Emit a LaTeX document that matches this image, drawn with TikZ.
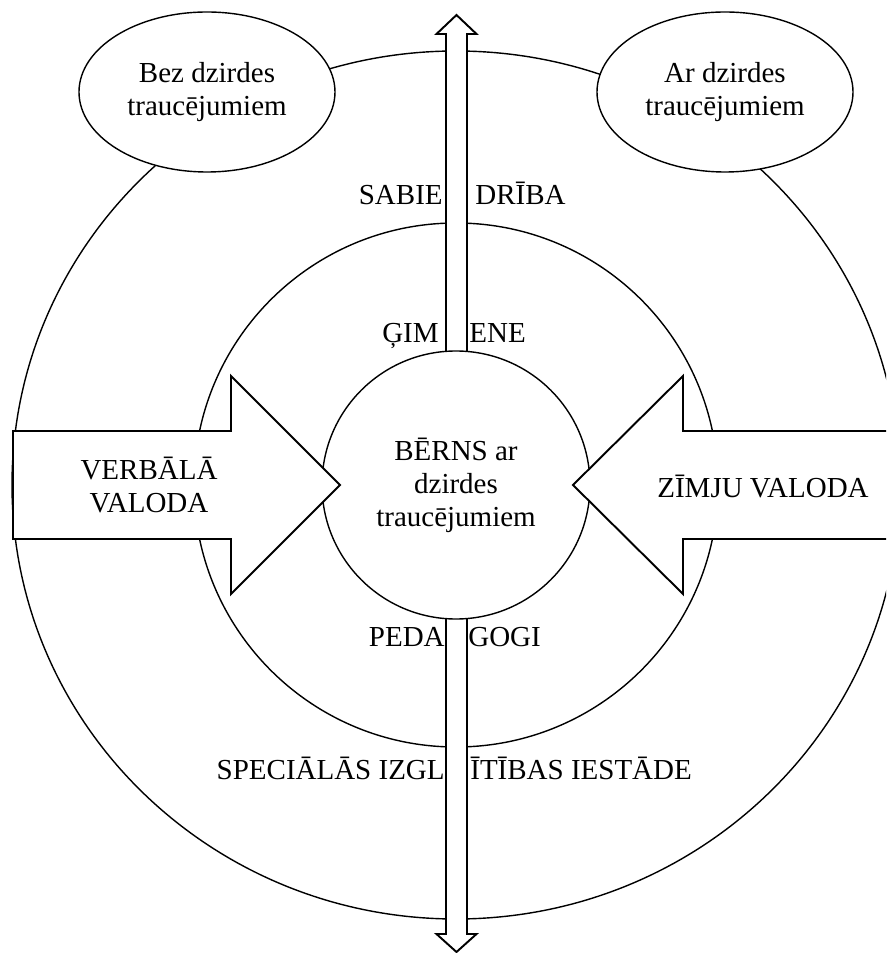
\documentclass[tikz,border=0pt]{standalone}
\usepackage{fontspec}
\setmainfont{Liberation Serif}
\usetikzlibrary{shapes.geometric}

\begin{document}
\begin{tikzpicture}[
    txt/.style={font=\fontsize{16.5}{18.8}\selectfont, inner sep=0pt, align=center},
    ring/.style={draw, line width=0.8pt},
    bigarrow/.style={draw, fill=white, line width=1.1pt, line join=miter}]
  \useasboundingbox (-9.12,-9.36) rectangle (8.6,9.7);
  \clip (-9.12,-9.36) rectangle (8.6,9.7);
  % outer ring
  \draw[ring] (0,0) ellipse (8.88 and 8.68);
  % the two groups
  \node[txt, ring, ellipse, fill=white, minimum width=5.12cm, minimum height=3.2cm] (bez) at (-4.98,7.86) {Bez dzirdes\\traucējumiem};
  \node[txt, ring, ellipse, fill=white, minimum width=5.12cm, minimum height=3.2cm] (ar) at (5.38,7.86) {Ar dzirdes\\traucējumiem};
  % middle ring
  \draw[ring] (0,0) circle (5.24);
  % vertical double arrow
  \draw[bigarrow] (-0.2,-8.98) -- (-0.2,9.02) -- (-0.39,9.02) -- (0.01,9.4)
    -- (0.41,9.02) -- (0.22,9.02) -- (0.22,-8.98) -- (0.41,-8.98)
    -- (0.01,-9.34) -- (-0.39,-8.98) -- cycle;
  % child
  \node[txt, ring, circle, fill=white, minimum size=5.36cm] (berns) at (0,0) {BĒRNS ar\\dzirdes\\traucējumiem};
  % side arrows
  \draw[bigarrow] (-8.86,1.08) -- (-4.5,1.08) -- (-4.5,2.18) -- (-2.32,0)
    -- (-4.5,-2.18) -- (-4.5,-1.08) -- (-8.86,-1.08) -- cycle;
  \draw[bigarrow] (9.3,1.08) -- (4.54,1.08) -- (4.54,2.18) -- (2.34,0)
    -- (4.54,-2.18) -- (4.54,-1.08) -- (9.3,-1.08) -- cycle;
  \node[txt] (verb) at (-6.14,0) {VERBĀLĀ\\VALODA};
  \node[txt] (zimju) at (6.14,-0.04) {ZĪMJU VALODA};
  % ring labels
  \node[txt, anchor=base east] (sab1) at (-0.26,5.6) {SABIE};
  \node[txt, anchor=base west] (sab2) at (0.38,5.6) {DRĪBA};
  \node[txt, anchor=base east] (gim1) at (-0.34,2.84) {ĢIM};
  \node[txt, anchor=base west] (gim2) at (0.26,2.84) {ENE};
  \node[txt, anchor=base east] (ped1) at (-0.22,-3.22) {PEDA};
  \node[txt, anchor=base west] (ped2) at (0.24,-3.22) {GOGI};
  \node[txt, anchor=base east] (spec1) at (-0.22,-5.88) {SPECIĀLĀS IZGL};
  \node[txt, anchor=base west] (spec2) at (0.28,-5.88) {ĪTĪBAS IESTĀDE};
\end{tikzpicture}
\end{document}
